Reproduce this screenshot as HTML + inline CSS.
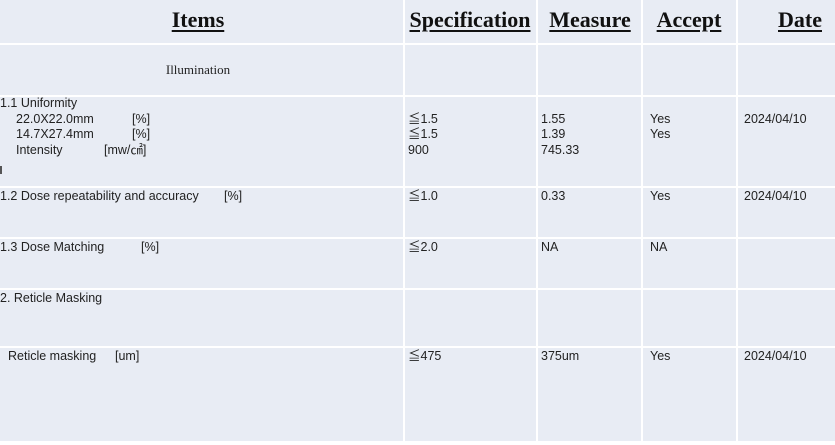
<!DOCTYPE html>
<html>
<head>
<meta charset="utf-8">
<style>
  html, body { margin: 0; padding: 0; }
  body { width: 835px; height: 445px; position: relative; overflow: hidden; background: #ffffff; }
  .bg { position: absolute; left: 0; top: 0; width: 835px; height: 441px; background: #E8ECF4; }
  .h { position: absolute; left: 0; width: 835px; height: 2px; background: #ffffff; }
  .v { position: absolute; top: 0; width: 2px; height: 441px; background: #ffffff; }
  .hd { position: absolute; top: 8.6px; line-height: 22px; font-family: "Liberation Serif", serif; font-weight: bold; font-size: 22px; color: #111; text-align: center; white-space: nowrap; }
  .hd span { text-decoration: underline; text-decoration-thickness: 2px; text-underline-offset: 3px; }
  .t { position: absolute; font-family: "Liberation Sans", "Noto Sans CJK JP", sans-serif; font-size: 12.5px; line-height: 15.5px; color: #222; white-space: pre; }
  .ser { position: absolute; font-family: "Liberation Serif", serif; font-size: 13px; color: #222; white-space: nowrap; }
</style>
</head>
<body>
<div class="bg"></div>

<!-- horizontal lines -->
<div class="h" style="top:43px"></div>
<div class="h" style="top:95px"></div>
<div class="h" style="top:186px"></div>
<div class="h" style="top:237px"></div>
<div class="h" style="top:288px"></div>
<div class="h" style="top:346px"></div>

<!-- vertical lines -->
<div class="v" style="left:403px"></div>
<div class="v" style="left:536px"></div>
<div class="v" style="left:641px"></div>
<div class="v" style="left:736px"></div>

<!-- headers -->
<div class="hd" style="left:98px;width:200px;"><span>Items</span></div>
<div class="hd" style="left:370px;width:200px;"><span>Specification</span></div>
<div class="hd" style="left:490px;width:200px;"><span>Measure</span></div>
<div class="hd" style="left:589px;width:200px;"><span>Accept</span></div>
<div class="hd" style="left:700px;width:200px;"><span>Date</span></div>

<!-- Illumination -->
<div class="ser" style="left:98px;width:200px;text-align:center;top:62px;line-height:16px;">Illumination</div>

<!-- Row 1.1 -->
<div class="t" style="left:0px;top:96.4px;">1.1 Uniformity</div>
<div class="t" style="left:16px;top:111.9px;">22.0X22.0mm</div>
<div class="t" style="left:132px;top:111.9px;">[%]</div>
<div class="t" style="left:16px;top:127.4px;">14.7X27.4mm</div>
<div class="t" style="left:132px;top:127.4px;">[%]</div>
<div class="t" style="left:16px;top:142.9px;">Intensity</div>
<div class="t" style="left:104px;top:142.9px;">[mw/㎠]</div>
<div style="position:absolute;left:0;top:166px;width:1.5px;height:8px;background:#555;"></div>

<div class="t" style="left:408px;top:111.9px;">≦1.5
≦1.5
900</div>
<div class="t" style="left:541px;top:111.9px;">1.55
1.39
745.33</div>
<div class="t" style="left:650px;top:111.9px;">Yes
Yes</div>
<div class="t" style="left:744px;top:111.9px;">2024/04/10</div>

<!-- Row 1.2 -->
<div class="t" style="left:0px;top:188.5px;">1.2 Dose repeatability and accuracy</div>
<div class="t" style="left:224px;top:188.5px;">[%]</div>
<div class="t" style="left:408px;top:188.5px;">≦1.0</div>
<div class="t" style="left:541px;top:188.5px;">0.33</div>
<div class="t" style="left:650px;top:188.5px;">Yes</div>
<div class="t" style="left:744px;top:188.5px;">2024/04/10</div>

<!-- Row 1.3 -->
<div class="t" style="left:0px;top:239.5px;">1.3 Dose Matching</div>
<div class="t" style="left:141px;top:239.5px;">[%]</div>
<div class="t" style="left:408px;top:239.5px;">≦2.0</div>
<div class="t" style="left:541px;top:239.5px;">NA</div>
<div class="t" style="left:650px;top:239.5px;">NA</div>

<!-- Row 2 -->
<div class="t" style="left:0px;top:290.7px;">2. Reticle Masking</div>

<!-- Reticle masking -->
<div class="t" style="left:8px;top:349px;">Reticle masking</div>
<div class="t" style="left:115px;top:349px;">[um]</div>
<div class="t" style="left:408px;top:349px;">≦475</div>
<div class="t" style="left:541px;top:349px;">375um</div>
<div class="t" style="left:650px;top:349px;">Yes</div>
<div class="t" style="left:744px;top:349px;">2024/04/10</div>

</body>
</html>
